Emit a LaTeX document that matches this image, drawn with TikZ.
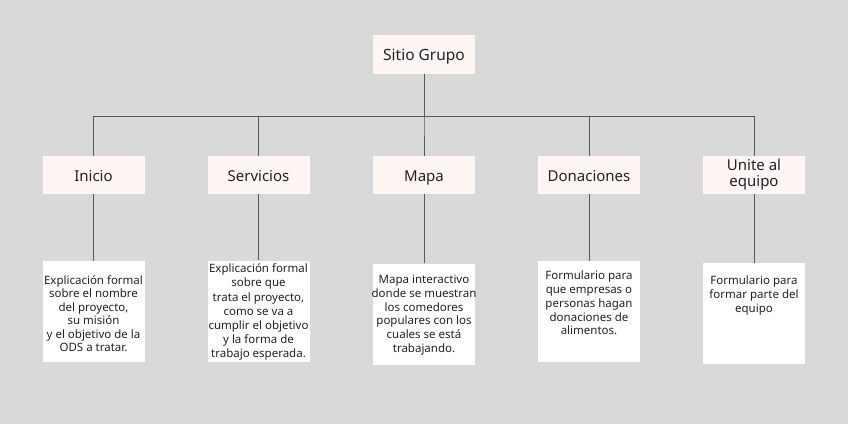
\documentclass[tikz,border=0pt]{standalone}
\usepackage{fontspec}
\setmainfont{Noto Sans}
\definecolor{bg}{HTML}{D9D9D9}
\definecolor{pinkbox}{HTML}{FEF6F4}
\definecolor{conncol}{HTML}{5A5A5A}
\definecolor{txt}{HTML}{222222}
\newcommand\dl[1]{\hbox to 102pt{\hss\rule{0pt}{10pt}#1\hss}}
\newcommand\desc[3]{\vbox to 101pt{\baselineskip=#2\lineskiplimit=-5pt\vskip#1 #3\vfill}}
\begin{document}
\begin{tikzpicture}[x=1pt,y=-1pt,
  topbox/.style={fill=pinkbox, minimum width=102pt, minimum height=39pt, inner sep=0pt, text=txt, font=\fontsize{15.5}{17}\selectfont},
  catbox/.style={fill=pinkbox, minimum width=102pt, minimum height=38pt, inner sep=0pt, text=txt, align=center, font=\fontsize{15}{16}\selectfont},
  catone/.style={catbox, text height=12pt, text depth=0pt},
  descbox/.style={fill=white, inner sep=0pt, text=txt, font=\fontsize{11.5}{13.9}\selectfont},
  conn/.style={draw=conncol, line width=1pt}]
\fill[bg] (0,0) rectangle (848,424);
\useasboundingbox (0,0) rectangle (848,424);
\node[topbox, text height=12pt, text depth=0pt] (top) at (424,54.5) {Sitio Grupo};
\node[catone] (c1) at (93.5,175) {Inicio};
\node[catone] (c2) at (258.5,175) {Servicios};
\node[catone] (c3) at (424,175) {Mapa};
\node[catone] (c4) at (589,175) {Donaciones};
\node[catbox] (c5) at (754,175) {Unite al\\equipo};
\node[descbox] (d1) at (93.5,311.5) {\desc{13pt}{13.5pt}{\dl{Explicación formal}\dl{sobre el nombre}\dl{del proyecto,}\dl{su misión}\dl{y el objetivo de la}\dl{ODS a tratar.}}};
\node[descbox] (d2) at (258.5,311) {\desc{2.3pt}{14.1pt}{\dl{Explicación formal}\dl{sobre que}\dl{trata el proyecto,}\dl{como se va a}\dl{cumplir el objetivo}\dl{y la forma de}\dl{trabajo esperada.}}};
\node[descbox] (d3) at (424,314) {\desc{10.3pt}{13.7pt}{\dl{Mapa interactivo}\dl{donde se muestran}\dl{los comedores}\dl{populares con los}\dl{cuales se está}\dl{trabajando.}}};
\node[descbox] (d4) at (589,311.5) {\desc{8.3pt}{13.9pt}{\dl{Formulario para}\dl{que empresas o}\dl{personas hagan}\dl{donaciones de}\dl{alimentos.}}};
\node[descbox] (d5) at (754,313.5) {\desc{11.3pt}{14.2pt}{\dl{Formulario para}\dl{formar parte del}\dl{equipo}}};
\foreach \i in {1,...,5}{
  \draw[conn] (top.south) -- ++(0,42.5) -| (c\i.north);
  \draw[conn] (c\i.south) -- (d\i.north);
}
\end{tikzpicture}
\end{document}
